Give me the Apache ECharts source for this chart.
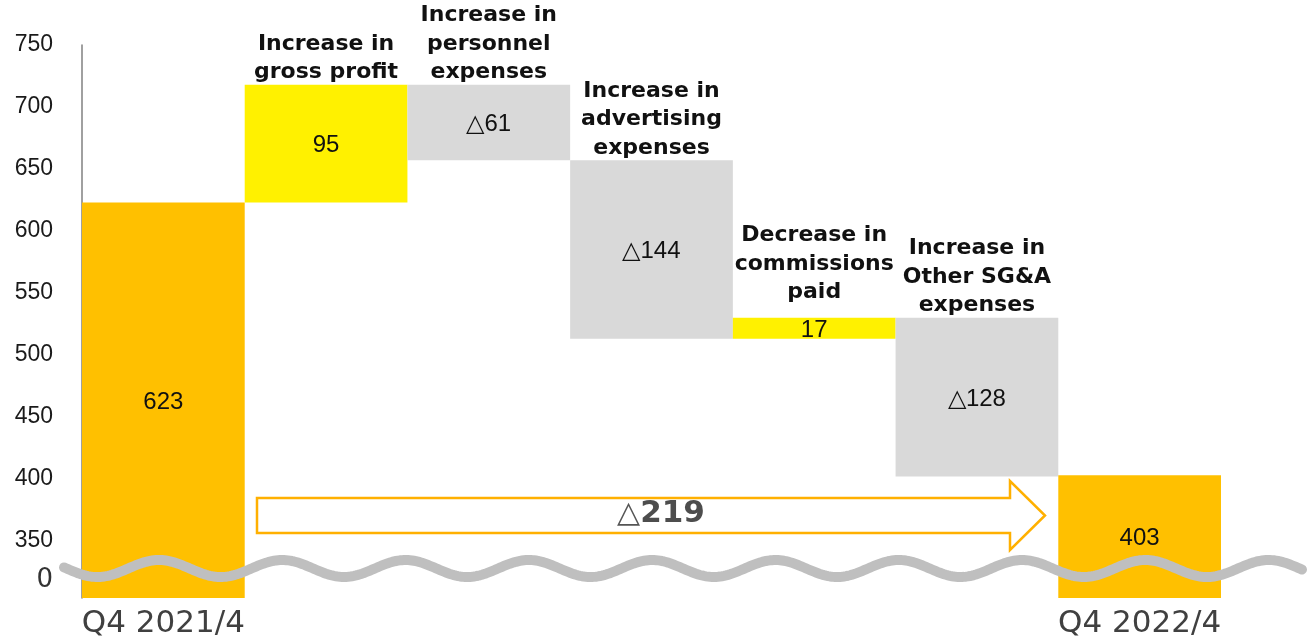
<!DOCTYPE html>
<html>
<head>
<meta charset="utf-8">
<script src="https://cdn.jsdelivr.net/npm/echarts@6/dist/echarts.min.js"></script>
<style>
  html, body { margin: 0; padding: 0; background: #ffffff; }
  #chart { width: 1309px; height: 643px; }
</style>
</head>
<body>
<div id="chart"></div>
<script>
// ---- data -------------------------------------------------------------
const categories = [
  'Q4 2021/4',
  'Increase in\ngross profit',
  'Increase in\npersonnel\nexpenses',
  'Increase in\nadvertising\nexpenses',
  'Decrease in\ncommissions\npaid',
  'Increase in\nOther SG&A\nexpenses',
  'Q4 2022/4'
];
const startTotal = 623;
const changes = [95, -61, -144, 17, -128];
const endTotal = 403;
const totalChange = -219;
const yTickValues = [350, 400, 450, 500, 550, 600, 650, 700, 750];
const brokenZeroAt = 318;   // where the "0" of the broken axis sits

// ---- waterfall pieces built from the data ----------------------------
const fmt = v => (v < 0 ? '△' : '') + Math.abs(v);
const pieces = [];
pieces.push({ lo: 0, hi: startTotal, kind: 'total', text: fmt(startTotal) });
let running = startTotal;
changes.forEach(c => {
  const next = running + c;
  pieces.push({ lo: Math.min(running, next), hi: Math.max(running, next),
                kind: c >= 0 ? 'up' : 'down', text: fmt(c) });
  running = next;
});
pieces.push({ lo: 0, hi: endTotal, kind: 'total', text: fmt(endTotal) });

const fills = { total: '#FFC000', up: '#FFF100', down: '#D9D9D9' };

function renderItem(params, api) {
  const i = api.value(0), lo = api.value(1), hi = api.value(2);
  const piece = pieces[params.dataIndex];
  const w = api.size([1, 0])[0];
  const pTop = api.coord([i, hi]);
  const pBot = api.coord([i, lo]);
  const cs = params.coordSys;
  const rect = echarts.graphic.clipRectByRect(
    { x: pTop[0] - w / 2, y: pTop[1], width: w, height: pBot[1] - pTop[1] },
    { x: cs.x, y: cs.y, width: cs.width, height: cs.height }
  );
  if (!rect) return;
  const children = [
    { type: 'rect', shape: rect, style: { fill: fills[piece.kind] } },
    { type: 'text', z2: 5,
      style: { text: piece.text, x: rect.x + rect.width / 2, y: rect.y + rect.height / 2 + 2,
               align: 'center', verticalAlign: 'middle',
               font: '24px "Liberation Sans", Arial, sans-serif', fill: '#111111' } }
  ];
  if (piece.kind !== 'total') {
    // thin bars carry a value label taller than the bar, lift the caption above it
    const lift = rect.height < 30 ? 11 : -2;
    children.push({ type: 'text', z2: 5,
      style: { text: categories[i], x: rect.x + rect.width / 2, y: rect.y - lift,
               align: 'center', verticalAlign: 'bottom', lineHeight: 28.5,
               font: 'bold 22px "DejaVu Sans", Verdana, sans-serif', fill: '#111111' } });
  }
  return { type: 'group', children };
}

// ---- decoration: axis-break wave and total-change arrow ---------------
const wavePts = [];
for (let x = 64; x <= 1303; x += 2) {
  wavePts.push([x, 568.5 - 8.5 * Math.cos(2 * Math.PI * (x - 159) / 123.3)]);
}

const chart = echarts.init(document.getElementById('chart'), null, { renderer: 'canvas' });
chart.setOption({
  animation: false,
  backgroundColor: '#ffffff',
  grid: { left: 82, right: 88, top: 45, bottom: 45, containLabel: false, outerBoundsMode: 'none' },
  xAxis: {
    type: 'category',
    data: categories,
    axisLine: { show: false },
    axisTick: { show: false },
    axisLabel: {
      interval: 0, margin: 10,
      formatter: (v, idx) => (idx === 0 || idx === categories.length - 1) ? v : '',
      fontFamily: '"DejaVu Sans", Verdana, sans-serif', fontSize: 31, color: '#404040'
    }
  },
  yAxis: {
    type: 'value',
    min: 304, max: 750,
    splitLine: { show: false },
    axisTick: { show: false },
    axisLine: { show: true, lineStyle: { color: '#808080', width: 1.5 } },
    axisLabel: {
      customValues: [brokenZeroAt].concat(yTickValues),
      margin: 29,
      formatter: v => v < yTickValues[0] ? '{z|0}' : String(v),
      fontFamily: '"Liberation Sans", Arial, sans-serif', fontSize: 23, color: '#1a1a1a',
      rich: { z: { fontFamily: '"DejaVu Sans", Verdana, sans-serif', fontSize: 26, color: '#333333' } }
    }
  },
  series: [{
    type: 'custom',
    renderItem,
    clip: false,
    encode: { x: 0, y: [1, 2] },
    data: pieces.map((p, i) => [i, p.lo, p.hi])
  }],
  graphic: [
    {
      type: 'polygon', z: 10,
      shape: { points: [[257, 498], [1010, 498], [1010, 481], [1045, 515.5], [1010, 550], [1010, 533], [257, 533]] },
      style: { fill: '#ffffff', stroke: '#FFB000', lineWidth: 2.5, lineJoin: 'miter' }
    },
    {
      type: 'text', z: 11, x: 661, y: 514,
      style: {
        text: '{a|△}{b|' + Math.abs(totalChange) + '}',
        align: 'center', verticalAlign: 'middle',
        rich: {
          a: { fontFamily: '"DejaVu Sans", sans-serif', fontSize: 30, fill: '#555555' },
          b: { fontFamily: '"DejaVu Sans", Verdana, sans-serif', fontWeight: 'bold', fontSize: 31, fill: '#4d4d4d' }
        }
      }
    },
    {
      type: 'polyline', z: 20,
      shape: { points: wavePts },
      style: { stroke: '#BFBFBF', lineWidth: 10, lineCap: 'round', lineJoin: 'round', fill: null }
    }
  ]
});
</script>
</body>
</html>
